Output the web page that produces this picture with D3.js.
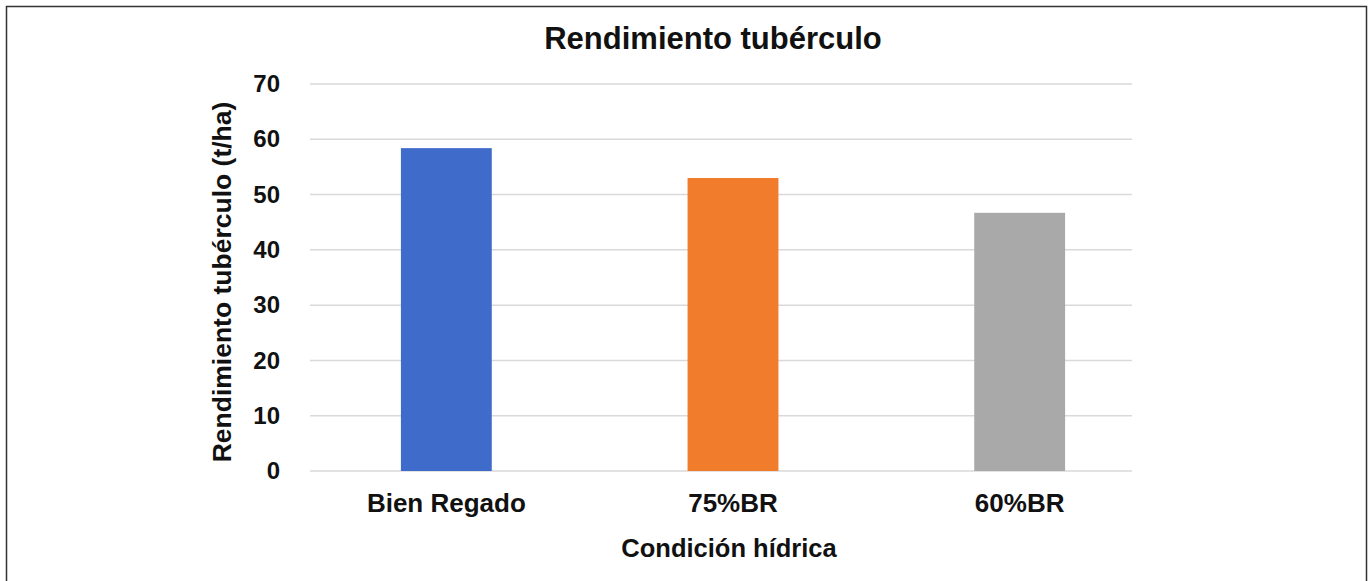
<!DOCTYPE html>
<html>
<head>
<meta charset="utf-8">
<script src="https://cdn.jsdelivr.net/npm/d3@7"></script>
<style>
  body { margin: 0; background: #fff; }
  text { font-family: "Liberation Sans", Arial, sans-serif; font-weight: bold; fill: #111; }
</style>
</head>
<body>
<script>
const categories = ["Bien Regado", "75%BR", "60%BR"];
const yields = [58.4, 53.0, 46.7];
const barColors = ["#3f6bcb", "#f07c2c", "#a9a9a9"];
const yTicks = [0, 10, 20, 30, 40, 50, 60, 70];

const width = 1371, height = 581;

const svg = d3.select("body").append("svg")
  .attr("width", width)
  .attr("height", height);

// outer frame
svg.append("rect")
  .attr("x", 6.5).attr("y", 6.5)
  .attr("width", 1360).attr("height", 590)
  .attr("fill", "#fff")
  .attr("stroke", "#333")
  .attr("stroke-width", 1.5);

const x = d3.scaleBand()
  .domain(categories)
  .range([303, 1163])
  .paddingInner(0.683)
  .paddingOuter(0.3415);

const y = d3.scaleLinear()
  .domain([0, 70])
  .range([471, 84]);

// gridlines
svg.append("g")
  .selectAll("line")
  .data(yTicks)
  .join("line")
  .attr("x1", 310).attr("x2", 1132)
  .attr("y1", d => y(d)).attr("y2", d => y(d))
  .attr("stroke", "#d9d9d9")
  .attr("stroke-width", 1.5);

// bars
svg.append("g")
  .selectAll("rect")
  .data(categories)
  .join("rect")
  .attr("x", d => x(d))
  .attr("width", x.bandwidth())
  .attr("y", (d, i) => y(yields[i]))
  .attr("height", (d, i) => y(0) - y(yields[i]))
  .attr("fill", (d, i) => barColors[i]);

// y axis
const yAxis = svg.append("g")
  .attr("transform", "translate(288,0)")
  .call(d3.axisLeft(y).tickValues(yTicks).tickSize(0).tickPadding(8));
yAxis.select(".domain").remove();
yAxis.selectAll("text")
  .attr("font-size", 24)
  .attr("fill", "#111")
  .style("font-family", "'Liberation Sans', Arial, sans-serif")
  .style("font-weight", "bold");

// x axis
const xAxis = svg.append("g")
  .attr("transform", "translate(0,471)")
  .call(d3.axisBottom(x).tickSize(0).tickPadding(23));
xAxis.select(".domain").remove();
xAxis.selectAll("text")
  .attr("font-size", 26)
  .attr("fill", "#111")
  .style("font-family", "'Liberation Sans', Arial, sans-serif")
  .style("font-weight", "bold");

// title
svg.append("text")
  .attr("x", 713).attr("y", 49)
  .attr("text-anchor", "middle")
  .attr("font-size", 31)
  .text("Rendimiento tubérculo");

// axis titles
svg.append("text")
  .attr("x", 729).attr("y", 557)
  .attr("text-anchor", "middle")
  .attr("font-size", 25.5)
  .text("Condición hídrica");

svg.append("text")
  .attr("transform", "translate(231,282) rotate(-90)")
  .attr("text-anchor", "middle")
  .attr("font-size", 26.5)
  .text("Rendimiento tubérculo (t/ha)");
</script>
</body>
</html>
